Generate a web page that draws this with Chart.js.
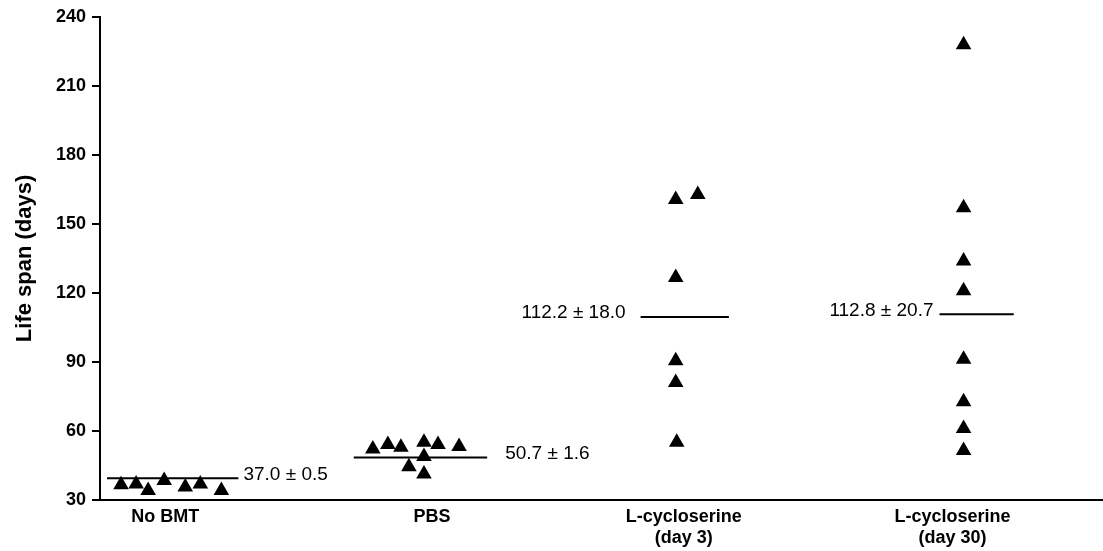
<!DOCTYPE html>
<html>
<head>
<meta charset="utf-8">
<script src="https://cdn.jsdelivr.net/npm/chart.js@4.4.1/dist/chart.umd.min.js"></script>
<style>
    html, body { margin: 0; padding: 0; background: #fff; overflow: hidden; }
    canvas { display: block; }
</style>
</head>
<body>
<canvas id="lifeChart" width="1103" height="551"></canvas>
<script>
// Gruppi e posizioni sull'asse x (unità della scala lineare 0-100)
const groupNames = ['No BMT', 'PBS', ['L-cycloserine', '(day 3)'], ['L-cycloserine', '(day 30)']];
const groupTickPos = [6.5, 33.1, 58.2, 85.0];

// Singoli topi: posizione x (con dispersione) e durata di vita (giorni)
const noBmtX = [2.1, 3.6, 4.8, 6.4, 8.5, 10.0, 12.1];
const noBmtY = [36.6, 37.0, 34.1, 38.5, 35.6, 37.0, 34.1];
const pbsX = [27.2, 28.7, 30.0, 32.3, 33.7, 35.8, 32.3, 30.8, 32.3];
const pbsY = [52.2, 54.1, 52.9, 55.1, 54.1, 53.2, 48.9, 44.5, 41.3];
const day3X = [57.4, 59.6, 57.4, 57.4, 57.4, 57.5];
const day3Y = [160.6, 162.8, 126.7, 90.5, 81.1, 55.1];
const day30X = [86.1, 86.1, 86.1, 86.1, 86.1, 86.1, 86.1, 86.1];
const day30Y = [227.9, 157.0, 133.9, 120.9, 91.2, 72.7, 61.1, 51.5];

// Linee della media e relative etichette
const meanLevel = [39.4, 48.5, 109.5, 110.7];
const meanFrom = [0.7, 25.3, 53.9, 83.7];
const meanTo = [13.8, 38.6, 62.7, 91.1];
const meanText = ['37.0 \u00b1 0.5', '50.7 \u00b1 1.6', '112.2 \u00b1 18.0', '112.8 \u00b1 20.7'];
const meanTextX = [14.3, 40.4, 52.4, 83.1];
const meanTextSide = ['left', 'left', 'right', 'right'];

const yTicks = [30, 60, 90, 120, 150, 180, 210, 240];

function toPoints(xs, ys) {
    return xs.map((x, i) => ({ x: x, y: ys[i] }));
}

const pointSets = [
    toPoints(noBmtX, noBmtY),
    toPoints(pbsX, pbsY),
    toPoints(day3X, day3Y),
    toPoints(day30X, day30Y)
];

const datasets = pointSets.map(pts => ({
    type: 'scatter',
    data: pts,
    pointStyle: 'triangle',
    pointRadius: 9,
    pointHoverRadius: 9,
    pointBackgroundColor: '#000',
    pointBorderColor: '#000',
    pointBorderWidth: 0,
    showLine: false
}));

meanLevel.forEach((lvl, i) => {
    datasets.push({
        type: 'line',
        data: [{ x: meanFrom[i], y: lvl }, { x: meanTo[i], y: lvl }],
        borderColor: '#000',
        borderWidth: 2,
        pointRadius: 0,
        fill: false
    });
});

// Etichette "media ± errore" accanto alle linee
const meanLabels = {
    id: 'meanLabels',
    afterDatasetsDraw(chart) {
        const ctx = chart.ctx;
        const xs = chart.scales.x, ys = chart.scales.y;
        ctx.save();
        ctx.fillStyle = '#000';
        ctx.font = '19px "Liberation Sans", Arial, sans-serif';
        ctx.textBaseline = 'middle';
        meanText.forEach((txt, i) => {
            ctx.textAlign = meanTextSide[i];
            ctx.fillText(txt, xs.getPixelForValue(meanTextX[i]), ys.getPixelForValue(meanLevel[i]) - 4);
        });
        ctx.restore();
    }
};

new Chart(document.getElementById('lifeChart'), {
    type: 'scatter',
    data: { datasets: datasets },
    plugins: [meanLabels],
    options: {
        responsive: false,
        animation: false,
        events: [],
        layout: { autoPadding: false, padding: { top: 16, right: 0, bottom: 0, left: 0 } },
        plugins: {
            legend: { display: false },
            tooltip: { enabled: false }
        },
        scales: {
            x: {
                type: 'linear',
                min: 0,
                max: 100,
                afterBuildTicks: axis => {
                    axis.ticks = groupTickPos.map(v => ({ value: v }));
                },
                afterFit: scale => {
                    scale.height = 51;
                    scale.paddingLeft = 0;
                    scale.paddingRight = 0;
                },
                grid: { display: false, drawTicks: false },
                border: { display: true, color: '#000', width: 2 },
                ticks: {
                    autoSkip: false,
                    maxRotation: 0,
                    padding: 6,
                    color: '#000',
                    font: { family: '"Liberation Sans", Arial, sans-serif', size: 18, weight: 'bold', lineHeight: 1.2 },
                    callback: (value, index) => groupNames[index]
                }
            },
            y: {
                min: 30,
                max: 240,
                afterBuildTicks: axis => {
                    axis.ticks = yTicks.map(v => ({ value: v }));
                },
                afterFit: scale => { scale.width = 100; },
                grid: {
                    display: true,
                    drawOnChartArea: false,
                    drawTicks: true,
                    tickLength: 8,
                    color: '#000',
                    lineWidth: 2
                },
                border: { display: true, color: '#000', width: 2 },
                ticks: {
                    padding: 6,
                    color: '#000',
                    font: { family: '"Liberation Sans", Arial, sans-serif', size: 18, weight: 'bold' }
                },
                title: {
                    display: true,
                    text: 'Life span (days)',
                    color: '#000',
                    padding: { top: 12, bottom: 0 },
                    font: { family: '"Liberation Sans", Arial, sans-serif', size: 22, weight: 'bold' }
                }
            }
        }
    }
});
</script>
</body>
</html>
